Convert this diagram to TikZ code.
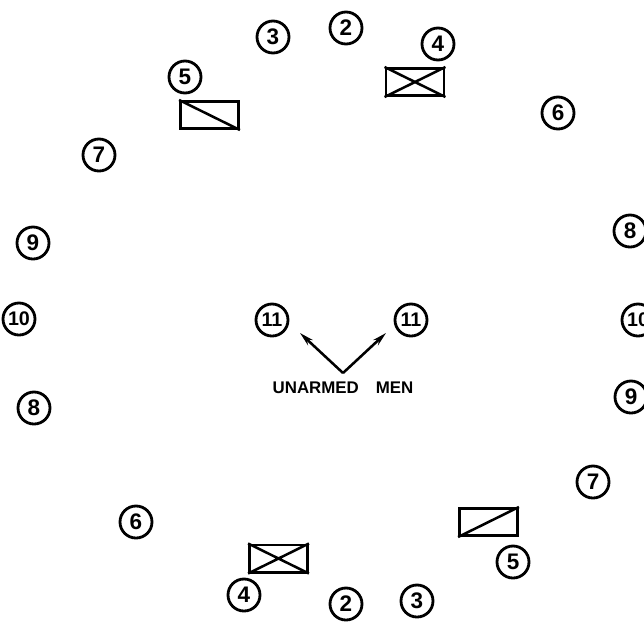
\documentclass[tikz,border=0pt]{standalone}
\usepackage{fontspec}
\setsansfont{Liberation Sans}
\usetikzlibrary{arrows.meta}
\tikzset{
  num/.style={circle,draw,line width=2pt,minimum size=0.8cm,inner sep=0pt,
    font=\sffamily\bfseries\fontsize{16}{16}\selectfont},
  numtwo/.style={num,font=\sffamily\bfseries\fontsize{14}{14}\selectfont},
  pbox/.style={draw,line width=2pt,minimum width=1.45cm,minimum height=0.68cm,inner sep=0pt},
  diag/.style={line width=1.8pt}
}
\begin{document}
\begin{tikzpicture}[x=0.025cm,y=-0.025cm]
  \useasboundingbox (0,0) rectangle (644,641);
  % numbered posts round the ring
  \foreach \n/\x/\y/\t in {tthree/273/37/3,ttwo/346/28/2,tfour/438/44/4,tfive/185/77/5,
      tsix/558/113/6,lseven/99/155/7,lnine/33/243/9,leight/34/408/8,
      reight/630/231/8,rnine/631/397/9,rseven/593/482/7,
      bsix/136/522/6,bfive/513/562/5,bfour/244/595/4,btwo/346/604/2,bthree/417/601/3}
    \node[num] (\n) at (\x,\y) {\t};
  \node[numtwo] (lten) at (19,319) {10};
  \node[numtwo] (rten) at (638,320) {10};
  % boxes
  \node[pbox] (boxtl) at (209.5,115) {};
  \node[pbox] (boxt) at (415,82) {};
  \node[pbox] (boxbr) at (488.5,522) {};
  \node[pbox] (boxb) at (278.5,558.5) {};
  \draw[diag] (boxtl.north west) -- (boxtl.south east);
  \draw[diag] (boxt.north west) -- (boxt.south east) (boxt.south west) -- (boxt.north east);
  \draw[diag] (boxbr.south west) -- (boxbr.north east);
  \draw[diag] (boxb.north west) -- (boxb.south east) (boxb.south west) -- (boxb.north east);
  % unarmed men in the middle
  \node[numtwo] (elevl) at (272,320) {11};
  \node[numtwo] (elevr) at (411,320) {11};
  \coordinate (apex) at (343,373);
  \coordinate (tipl) at (300,333);
  \coordinate (tipr) at (386,333);
  \draw[line width=1.8pt,-{Stealth[length=10pt,width=5pt]}] (apex) -- (tipl);
  \draw[line width=1.8pt,-{Stealth[length=10pt,width=5pt]}] (apex) -- (tipr);
  \node[font=\sffamily\bfseries\fontsize{12}{12}\selectfont] (label) at (343,388) {UNARMED\quad MEN};
\end{tikzpicture}
\end{document}
